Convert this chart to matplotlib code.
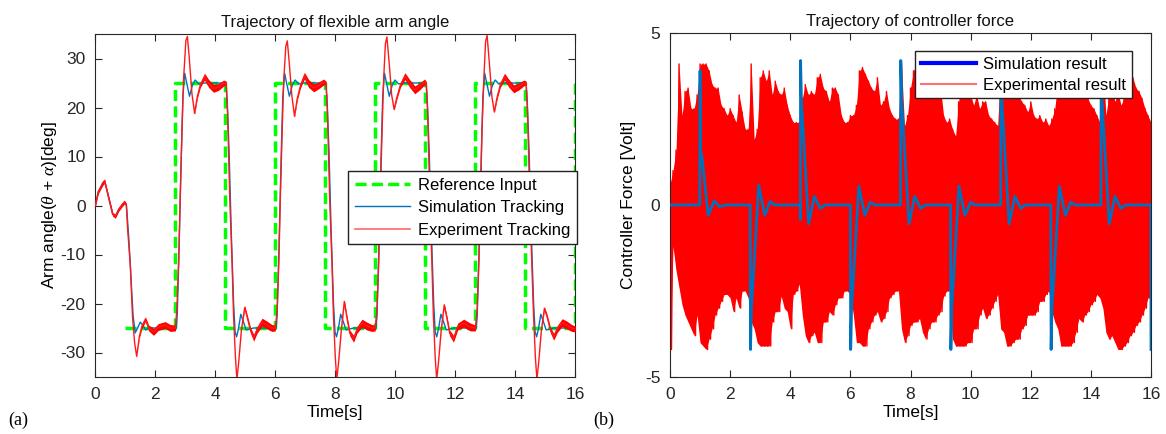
import numpy as np
import matplotlib
matplotlib.use("Agg")
import matplotlib.pyplot as plt
from matplotlib.lines import Line2D

# ---------------- (a) flexible arm angle ----------------
ref_t = [1.0, 2.667, 4.333, 6.0, 7.667, 9.333, 11.0, 12.667, 14.333, 16.0]
ref_level = [-25, 25, -25, 25, -25, 25, -25, 25, -25, 25]

sim_t = [0.00, 0.10, 0.25, 0.31, 0.45, 0.58, 0.67, 0.78, 0.90, 0.98,
         1.04, 1.12, 1.20, 1.26, 1.33, 1.41, 1.50, 1.60, 1.68, 1.80,
         2.70, 2.73, 2.78, 2.86, 2.92, 2.98, 3.04, 3.14, 3.24, 3.33, 3.45, 3.60,
         4.36, 4.40, 4.46, 4.53, 4.61, 4.66, 4.71, 4.77, 4.85, 4.93, 5.03, 5.15, 5.28,
         6.03, 6.06, 6.11, 6.19, 6.25, 6.31, 6.37, 6.47, 6.57, 6.66, 6.78, 6.93,
         7.69, 7.73, 7.79, 7.86, 7.94, 7.99, 8.04, 8.10, 8.18, 8.26, 8.36, 8.48, 8.61,
         9.36, 9.39, 9.44, 9.52, 9.58, 9.64, 9.70, 9.80, 9.90, 9.99, 10.11, 10.26,
         11.03, 11.07, 11.13, 11.20, 11.28, 11.33, 11.38, 11.44, 11.52, 11.60, 11.70, 11.82, 11.95,
         12.70, 12.73, 12.78, 12.86, 12.92, 12.98, 13.04, 13.14, 13.24, 13.33, 13.45, 13.60,
         14.36, 14.40, 14.46, 14.53, 14.61, 14.66, 14.71, 14.77, 14.85, 14.93, 15.03, 15.15, 15.28,
         16.00]
sim_angle = [0.0, 2.8, 4.6, 5.0, 1.5, -1.8, -2.2, -0.8, 0.2, 0.7,
             0.0, -7.0, -16.0, -22.5, -26.0, -25.0, -23.8, -24.6, -25.4, -25.0,
             -25.0, -22.5, -11.8, 8.6, 22.2, 27.0, 25.2, 22.3, 24.6, 25.6, 24.8, 25.0,
             25.0, 21.0, 11.0, -5.0, -20.0, -25.8, -26.8, -25.2, -22.2, -23.6, -25.4, -25.2, -25.0,
             -25.0, -22.5, -11.8, 8.6, 22.2, 27.0, 25.2, 22.3, 24.6, 25.6, 24.8, 25.0,
             25.0, 21.0, 11.0, -5.0, -20.0, -25.8, -26.8, -25.2, -22.2, -23.6, -25.4, -25.2, -25.0,
             -25.0, -22.5, -11.8, 8.6, 22.2, 27.0, 25.2, 22.3, 24.6, 25.6, 24.8, 25.0,
             25.0, 21.0, 11.0, -5.0, -20.0, -25.8, -26.8, -25.2, -22.2, -23.6, -25.4, -25.2, -25.0,
             -25.0, -22.5, -11.8, 8.6, 22.2, 27.0, 25.2, 22.3, 24.6, 25.6, 24.8, 25.0,
             25.0, 21.0, 11.0, -5.0, -20.0, -25.8, -26.8, -25.2, -22.2, -23.6, -25.4, -25.2, -25.0,
             -25.0]

exp_t = [0.00, 0.10, 0.25, 0.31, 0.45, 0.58, 0.67, 0.78, 0.90, 0.97,
         1.03, 1.08, 1.17, 1.24, 1.31, 1.38, 1.47, 1.55, 1.67, 1.78, 1.94, 2.10, 2.33, 2.50, 2.67,
         2.72, 2.78, 2.83, 2.89, 2.94, 3.02, 3.07, 3.13, 3.22, 3.31, 3.40, 3.50, 3.64, 3.78, 3.94, 4.11, 4.28, 4.36,
         4.41, 4.48, 4.56, 4.61, 4.67, 4.72, 4.78, 4.87, 4.98, 5.06, 5.17, 5.28, 5.39, 5.56, 5.72, 5.89, 6.00,
         6.06, 6.12, 6.17, 6.23, 6.28, 6.35, 6.40, 6.46, 6.55, 6.64, 6.73, 6.84, 6.97, 7.11, 7.28, 7.44, 7.61, 7.69,
         7.74, 7.81, 7.89, 7.94, 8.00, 8.05, 8.11, 8.20, 8.30, 8.39, 8.48, 8.61, 8.72, 8.89, 9.05, 9.22, 9.33,
         9.39, 9.45, 9.50, 9.56, 9.61, 9.67, 9.72, 9.79, 9.88, 9.96, 10.04, 10.17, 10.32, 10.48, 10.65, 10.83, 10.97, 11.03,
         11.08, 11.15, 11.22, 11.27, 11.33, 11.38, 11.44, 11.53, 11.63, 11.72, 11.81, 11.94, 12.08, 12.28, 12.50, 12.67,
         12.73, 12.79, 12.84, 12.89, 12.95, 13.01, 13.06, 13.13, 13.22, 13.30, 13.39, 13.50, 13.64, 13.79, 13.95, 14.12, 14.28, 14.36,
         14.41, 14.48, 14.55, 14.61, 14.67, 14.72, 14.78, 14.87, 14.97, 15.06, 15.17, 15.28, 15.40, 15.56, 15.72, 15.88, 16.00]
exp_angle = [0.0, 2.8, 4.6, 5.0, 1.5, -1.8, -2.2, -0.8, 0.2, 0.7,
             0.3, -5.0, -12.5, -22.7, -28.0, -30.8, -26.7, -24.7, -23.2, -25.0, -25.8, -24.8, -24.4, -25.0, -25.0,
             -21.0, -11.0, 1.8, 15.4, 25.6, 33.7, 34.5, 30.3, 22.9, 18.8, 22.2, 24.6, 26.3, 24.9, 23.9, 24.2, 25.0, 25.0,
             18.8, 1.8, -11.8, -22.7, -30.8, -35.5, -32.0, -25.4, -20.8, -22.7, -25.4, -27.0, -25.4, -23.8, -24.4, -25.0, -25.0,
             -21.5, -11.0, 2.0, 15.5, 25.5, 32.5, 33.6, 29.5, 22.5, 18.2, 21.8, 24.5, 26.5, 24.9, 24.0, 24.5, 25.2, 25.0,
             18.8, 1.8, -11.8, -22.7, -31.0, -35.5, -32.0, -25.4, -19.6, -23.0, -26.0, -27.2, -25.4, -24.0, -24.6, -25.0, -25.0,
             -21.0, -11.0, 2.0, 15.5, 25.6, 33.0, 34.4, 29.5, 22.5, 19.6, 21.8, 24.6, 26.4, 24.9, 23.6, 24.4, 25.2, 25.0,
             18.8, 1.8, -11.8, -22.7, -31.0, -35.5, -32.0, -25.4, -20.3, -23.0, -26.0, -27.2, -24.7, -24.0, -24.8, -25.0,
             -21.0, -11.0, 2.0, 15.5, 25.6, 33.5, 34.7, 29.5, 22.2, 19.1, 22.0, 24.6, 26.3, 24.9, 23.8, 24.3, 25.0, 25.0,
             18.8, 1.8, -11.8, -22.7, -31.0, -35.5, -32.0, -25.4, -21.0, -22.7, -25.4, -26.8, -25.2, -23.9, -24.4, -25.0, -25.2]
# half-width of the measurement jitter around each experimental sample
exp_jitter = [0.3, 0.4, 0.5, 0.4, 0.4, 0.4, 0.4, 0.4, 0.4, 0.4,
              0.2, 0, 0, 0, 0, 0, 0.3, 0.5, 0.5, 0.6, 0.7, 0.7, 0.7, 0.7, 0.6,
              0, 0, 0, 0, 0, 0, 0, 0, 0, 0.2, 0.4, 0.5, 0.7, 0.8, 0.8, 0.7, 0.6, 0.4,
              0, 0, 0, 0, 0, 0, 0, 0.2, 0.4, 0.5, 0.6, 0.7, 0.7, 0.8, 0.8, 0.7, 0.6,
              0, 0, 0, 0, 0, 0, 0, 0, 0, 0.2, 0.4, 0.5, 0.7, 0.8, 0.8, 0.7, 0.6, 0.4,
              0, 0, 0, 0, 0, 0, 0, 0.2, 0.4, 0.5, 0.6, 0.7, 0.7, 0.8, 0.8, 0.7, 0.6,
              0, 0, 0, 0, 0, 0, 0, 0, 0, 0.2, 0.4, 0.5, 0.7, 0.8, 0.8, 0.7, 0.6, 0.4,
              0, 0, 0, 0, 0, 0, 0, 0.2, 0.4, 0.5, 0.6, 0.7, 0.7, 0.8, 0.8, 0.6,
              0, 0, 0, 0, 0, 0, 0, 0, 0, 0.2, 0.4, 0.5, 0.7, 0.8, 0.8, 0.7, 0.6, 0.4,
              0, 0, 0, 0, 0, 0, 0, 0.2, 0.4, 0.5, 0.6, 0.7, 0.7, 0.8, 0.8, 0.7, 0.6]

# ---------------- (b) controller force ----------------
force_sim_t = [0.0, 0.99, 1.0, 1.02, 1.05, 1.10, 1.27, 1.47, 1.65, 1.85,
               2.667, 2.677, 2.71, 2.95, 3.15, 3.33, 3.49,
               4.333, 4.336, 4.343, 4.373, 4.61, 4.80, 5.00, 5.15,
               6.0, 6.01, 6.04, 6.28, 6.48, 6.66, 6.82,
               7.667, 7.677, 7.707, 7.95, 8.14, 8.34, 8.49,
               9.333, 9.343, 9.373, 9.61, 9.81, 10.0, 10.15,
               11.0, 11.01, 11.04, 11.28, 11.47, 11.67, 11.82,
               12.667, 12.677, 12.707, 12.95, 13.15, 13.33, 13.49,
               14.333, 14.343, 14.373, 14.61, 14.80, 15.00, 15.15,
               15.995, 16.0]
force_sim = [0.0, 0.0, 3.9, 1.2, 1.5, 1.1, -0.3, 0.12, -0.05, 0.0,
             0.0, -4.2, -3.0, 0.58, -0.3, 0.1, 0.0,
             0.0, -0.43, 4.2, 3.0, -0.55, 0.25, -0.1, 0.0,
             0.0, -4.2, -3.0, 0.55, -0.3, 0.08, 0.0,
             0.0, 4.2, 3.0, -0.55, 0.25, -0.1, 0.0,
             0.0, -4.2, -3.0, 0.55, -0.3, 0.08, 0.0,
             0.0, 4.2, 3.0, -0.55, 0.25, -0.1, 0.0,
             0.0, -4.2, -3.0, 0.55, -0.3, 0.08, 0.0,
             0.0, 4.2, 3.0, -0.55, 0.25, -0.1, 0.0,
             0.0, -4.2]

# experimental force: positive / negative peaks of the trace every 0.1 s
force_exp_t = [round(0.1 * i, 1) for i in range(161)]
force_exp_high = [0.6, 1.0, 1.6, 4.1, 2.6, 3.3, 3.4, 2.8, 2.8, 3.2,
                  4.1, 4.1, 4.1, 3.9, 3.5, 3.4, 3.4, 2.9, 2.8, 2.6, 2.8, 2.6, 2.4, 3.2, 2.7, 2.2, 2.2,
                  4.1, 1.9, 2.2, 3.7, 3.9, 3.6, 3.9, 3.2, 3.6, 3.3, 3.2, 3.4, 2.9, 2.6, 2.4, 2.4,
                  2.4, 3.1, 3.5, 3.2, 3.3, 3.2, 3.7, 3.8, 3.4, 3.3, 3.0, 3.4, 3.4, 3.2, 2.6, 2.4, 2.4,
                  2.6, 2.6, 2.9, 3.9, 4.0, 3.8, 3.6, 3.4, 3.3, 3.7, 2.9, 3.0, 3.3, 2.8, 2.6, 2.5, 2.5,
                  4.1, 2.3, 2.6, 3.4, 3.9, 4.1, 4.2, 4.2, 3.8, 4.0, 3.6, 3.3, 3.3, 3.4, 2.6, 2.4,
                  2.5, 2.2, 2.0, 3.0, 3.7, 3.4, 3.3, 3.2, 2.9, 3.2, 2.8, 3.0, 3.0, 2.6, 2.5, 2.4, 2.3,
                  4.1, 3.6, 3.8, 3.6, 3.4, 3.5, 3.2, 3.0, 2.9, 2.7, 3.0, 2.6, 2.5, 2.6, 2.4, 2.5, 2.3,
                  2.5, 2.8, 3.6, 3.5, 3.3, 3.6, 3.4, 3.9, 3.7, 3.8, 3.6, 3.3, 3.1, 2.9, 2.8, 2.6,
                  2.4, 4.2, 2.6, 3.2, 3.4, 3.0, 3.3, 2.9, 3.1, 3.6, 3.5, 3.7, 3.4, 3.3, 3.1, 2.8, 2.6, 2.4]
force_exp_low = [-4.2, -1.2, -1.9, -2.4, -2.9, -3.2, -3.4, -3.6, -3.8, -3.2,
                 -4.0, -4.1, -4.2, -3.9, -3.6, -3.2, -3.0, -2.8, -2.6, -2.6, -2.7, -3.1, -2.7, -3.0, -2.5, -2.5, -2.7,
                 -3.4, -3.6, -4.0, -4.1, -4.1, -4.1, -4.1, -3.4, -3.1, -3.1, -2.65, -3.0, -3.1, -3.6, -2.6, -2.5,
                 -2.3, -3.2, -3.8, -4.0, -3.8, -3.7, -4.0, -4.0, -3.4, -3.4, -3.1, -3.2, -2.9, -2.7, -2.7, -2.5, -2.5,
                 -2.6, -3.2, -4.0, -4.0, -4.1, -4.1, -3.6, -3.4, -3.2, -3.1, -3.4, -3.3, -3.1, -2.7, -2.6, -2.5, -2.5,
                 -3.6, -4.0, -3.8, -3.5, -3.4, -3.4, -3.3, -3.7, -3.9, -3.6, -3.4, -3.4, -3.2, -3.1, -2.65, -2.5,
                 -2.5, -3.9, -4.1, -4.1, -4.1, -4.1, -4.0, -4.0, -3.6, -3.6, -3.2, -3.0, -3.3, -3.2, -3.0, -2.8, -2.6,
                 -3.6, -3.7, -4.1, -4.1, -4.0, -3.9, -3.9, -3.6, -3.5, -3.2, -3.2, -3.2, -3.1, -2.8, -2.8, -2.6, -2.5,
                 -3.1, -3.4, -3.6, -4.1, -4.1, -4.1, -4.1, -4.0, -3.7, -3.3, -3.4, -3.2, -3.1, -2.9, -2.8, -2.6,
                 -2.7, -3.0, -3.7, -3.9, -3.8, -4.0, -4.2, -4.2, -4.1, -4.0, -3.8, -3.7, -3.5, -3.4, -3.2, -3.0, -2.7, -2.6]

x_ticks = [0, 2, 4, 6, 8, 10, 12, 14, 16]

plt.rcParams['font.family'] = ['Liberation Sans', 'DejaVu Sans']
plt.rcParams['axes.unicode_minus'] = False
plt.rcParams['mathtext.fontset'] = 'custom'
plt.rcParams['mathtext.it'] = 'Liberation Serif:italic'
plt.rcParams['mathtext.rm'] = 'Liberation Sans'

W, H = 1166, 434
fig = plt.figure(figsize=(W / 100, H / 100), dpi=100)
ax1 = fig.add_axes([95.3 / W, (H - 377) / H, 480 / W, 343 / H])
ax2 = fig.add_axes([670 / W, (H - 377) / H, 481 / W, 344 / H])

sim_blue = '#0072BD'
spine_col = '#262626'


def style_axes(ax):
    ax.tick_params(direction='in', length=5, width=0.8, top=True, right=True,
                   labelsize=12.5, colors=spine_col, pad=7)
    for s in ax.spines.values():
        s.set_color(spine_col)
        s.set_linewidth(0.8)
    ax.set_xticks(x_ticks)
    ax.set_xlim(0, 16)


# ---- panel (a)
ax1.step(ref_t, ref_level, where='post', color='#00FF00', lw=2.5,
         linestyle=(0, (3.2, 1.5)), zorder=2)
ax1.plot(sim_t, sim_angle, color=sim_blue, lw=1.0, zorder=3)
ea = np.array(exp_angle)
ej = np.array(exp_jitter)
ax1.fill_between(exp_t, ea - ej, ea + ej, color='#FF0000', lw=0, zorder=4)
ax1.plot(exp_t, exp_angle, color='#FF1A1A', lw=1.0, zorder=4)
style_axes(ax1)
ax1.set_ylim(-35, 35)
ax1.set_yticks([-30, -20, -10, 0, 10, 20, 30])
ax1.set_title('Trajectory of flexible arm angle', fontsize=12, pad=5, color='#111111')
ax1.set_xlabel('Time[s]', fontsize=12.5, labelpad=2)
ax1.set_ylabel(r'Arm angle($\theta$ + $\alpha$)[deg]', fontsize=12.5, labelpad=1)
h_a = [Line2D([], [], color='#00FF00', lw=2.5, linestyle=(0, (3.2, 1.5))),
       Line2D([], [], color=sim_blue, lw=1.0),
       Line2D([], [], color='#FF6A6A', lw=1.2)]
leg1 = ax1.legend(h_a, ['Reference Input', 'Simulation Tracking', 'Experiment Tracking'],
                  loc='upper right', bbox_to_anchor=(1.004, 0.601), borderaxespad=0,
                  fontsize=12, frameon=True, fancybox=False, edgecolor='#222222',
                  framealpha=1.0, handlelength=3.3, handletextpad=0.5,
                  labelspacing=0.45, borderpad=0.4)
leg1.get_frame().set_linewidth(1.0)
leg1.set_zorder(10)

# ---- panel (b)
ax2.fill_between(force_exp_t, force_exp_low, force_exp_high, color='#FF0000', lw=0, zorder=2)
zig_t, zig_v = [], []
for t, hi, lo in zip(force_exp_t, force_exp_high, force_exp_low):
    zig_t += [t, t + 0.05]
    zig_v += [hi, lo]
ax2.plot(zig_t, zig_v, color='#FF0000', lw=1.0, zorder=2)
ax2.plot(force_sim_t, force_sim, color=sim_blue, lw=2.0, zorder=3)
style_axes(ax2)
ax2.set_ylim(-5, 5)
ax2.set_yticks([-5, 0, 5])
ax2.set_title('Trajectory of controller force', fontsize=12, pad=5, color='#111111')
ax2.set_xlabel('Time[s]', fontsize=12.5, labelpad=2)
ax2.set_ylabel('Controller Force [Volt]', fontsize=12.5, labelpad=6)
h_b = [Line2D([], [], color='#0000FF', lw=3.0),
       Line2D([], [], color='#FF7070', lw=1.5)]
leg2 = ax2.legend(h_b, ['Simulation result', 'Experimental result'],
                  loc='upper right', bbox_to_anchor=(0.96, 0.948), borderaxespad=0,
                  fontsize=12, frameon=True, fancybox=False, edgecolor='#222222',
                  framealpha=1.0, handlelength=3.3, handletextpad=0.4,
                  labelspacing=0.35, borderpad=0.35)
leg2.get_frame().set_linewidth(1.0)
leg2.set_zorder(10)

fig.text(8 / W, 1 - 420 / H, '(a)', family='Liberation Serif', fontsize=13, va='center')
fig.text(593 / W, 1 - 420 / H, '(b)', family='Liberation Serif', fontsize=13, va='center')

fig.savefig('out.png', dpi=100, facecolor='white')
